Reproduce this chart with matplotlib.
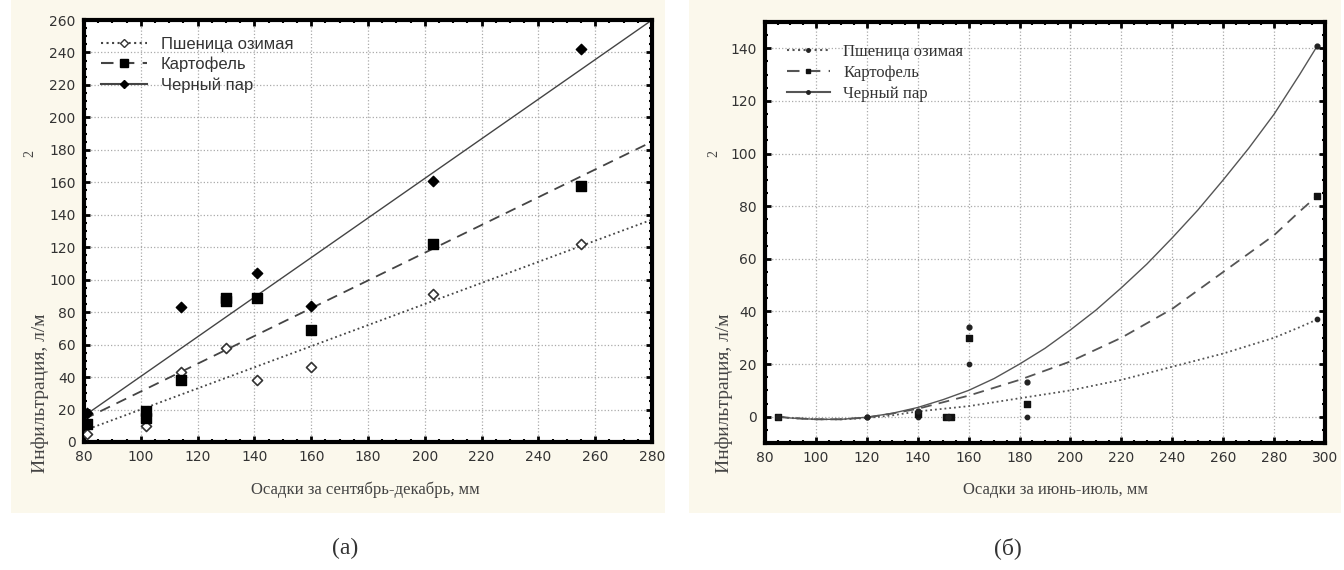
import matplotlib.pyplot as plt
from matplotlib.ticker import MultipleLocator
from matplotlib.patches import Rectangle

# ---- panel (a): осадки сентябрь-декабрь ----
wheat_x_a = [81, 102, 114, 130, 141, 160, 203, 255]
wheat_y_a = [5, 10, 43, 58, 38, 46, 91, 122]
potato_x_a = [81, 102, 102, 114, 130, 130, 141, 160, 203, 255]
potato_y_a = [11, 15, 19, 38, 87, 89, 89, 69, 122, 158]
fallow_x_a = [81, 114, 141, 160, 203, 255]
fallow_y_a = [18, 83, 104, 84, 161, 242]
fit_x_a = [80, 280]
wheat_fit_a = [7, 137]
potato_fit_a = [14, 185]
fallow_fit_a = [16, 260]

# ---- panel (б): осадки июнь-июль ----
wheat_x_b = [85, 120, 140, 151, 160, 183, 297]
wheat_y_b = [0, 0, 0, 0, 20, 0, 37]
potato_x_b = [85, 140, 151, 153, 160, 183, 297]
potato_y_b = [0, 1, 0, 0, 30, 5, 84]
fallow_x_b = [85, 120, 140, 152, 160, 183, 297]
fallow_y_b = [0, 0, 2, 0, 34, 13, 141]
curve_x_b = [85, 90, 100, 110, 120, 130, 140, 150, 160, 170, 180, 190, 200,
             210, 220, 230, 240, 250, 260, 270, 280, 290, 297]
wheat_curve_b = [0, -0.5, -1, -1, -0.5, 0.5, 2, 3, 4, 5.5, 7, 8.5, 10,
                 12, 14, 16.5, 19, 21.5, 24, 27, 30, 34, 37]
potato_curve_b = [0, -0.5, -1, -1, -0.3, 1.2, 3, 5.5, 8, 11, 14, 17.5, 21,
                  25.5, 30, 35.5, 41, 48, 55, 62, 69, 78, 84]
fallow_curve_b = [0, -0.5, -1, -1, -0.2, 1.3, 3.5, 6.5, 10, 14.5, 20, 26, 33,
                  40.5, 49, 58, 68, 78.5, 90, 102, 115, 130, 141]

labels = ['Пшеница озимая', 'Картофель', 'Черный пар']

fig = plt.figure(figsize=(13.44, 5.70), dpi=100)
# cream background behind each panel
for x0, w in [(0.008, 0.487), (0.513, 0.485)]:
    fig.patches.append(Rectangle((x0, 0.10), w, 0.90, transform=fig.transFigure,
                                 facecolor='#fbf8ec', edgecolor='none', zorder=-10))

ax1 = fig.add_axes([0.0625, 0.2246, 0.4226, 0.7403])
ax2 = fig.add_axes([0.5692, 0.2228, 0.4167, 0.7386])


def style(ax, xlim, ylim):
    ax.set_xlim(*xlim)
    ax.set_ylim(*ylim)
    ax.xaxis.set_major_locator(MultipleLocator(20))
    ax.yaxis.set_major_locator(MultipleLocator(20))
    ax.xaxis.set_minor_locator(MultipleLocator(5))
    ax.yaxis.set_minor_locator(MultipleLocator(5))
    ax.tick_params(which='both', direction='in', top=True, right=True,
                   colors='black', labelcolor='#333333')
    ax.tick_params(which='major', length=4, width=2, labelsize=10, pad=6)
    ax.tick_params(which='minor', length=2.5, width=1.5)
    ax.grid(True, which='major', linestyle=':', color='#aaaaaa', linewidth=0.9)
    for s in ax.spines.values():
        s.set_linewidth(3)
    ax.set_facecolor('white')


# panel (a)
ax1.plot(fit_x_a, wheat_fit_a, linestyle=':', color='#444444', linewidth=1.3)
ax1.plot(fit_x_a, potato_fit_a, linestyle=(0, (6, 4)), color='#444444', linewidth=1.3)
ax1.plot(fit_x_a, fallow_fit_a, linestyle='-', color='#444444', linewidth=1.0)
ax1.scatter(wheat_x_a, wheat_y_a, marker='D', s=26, facecolors='white',
            edgecolors='#333333', linewidths=1.2, zorder=3)
ax1.scatter(potato_x_a, potato_y_a, marker='s', s=50, color='black', zorder=3)
ax1.scatter(fallow_x_a, fallow_y_a, marker='D', s=28, color='black', zorder=3)
h1 = [plt.Line2D([], [], linestyle=':', color='#444444', marker='D', markersize=4,
                 markerfacecolor='white', markeredgecolor='#333333'),
      plt.Line2D([], [], linestyle=(0, (6, 4)), color='#444444', marker='s', markersize=6,
                 markerfacecolor='black', markeredgecolor='black'),
      plt.Line2D([], [], linestyle='-', color='#444444', marker='D', markersize=4,
                 markerfacecolor='black', markeredgecolor='black')]
ax1.legend(h1, labels, loc='upper left', frameon=False, handlelength=2.8,
           prop={'family': 'Liberation Sans', 'size': 12}, borderaxespad=0.6,
           labelspacing=0.3, labelcolor='#333333', bbox_to_anchor=(0.0, 1.0))
style(ax1, (80, 280), (0, 260))

# panel (б)
ax2.plot(curve_x_b, wheat_curve_b, linestyle=':', color='#555555', linewidth=1.3)
ax2.plot(curve_x_b, potato_curve_b, linestyle=(0, (6, 4)), color='#555555', linewidth=1.3)
ax2.plot(curve_x_b, fallow_curve_b, linestyle='-', color='#555555', linewidth=1.0)
ax2.scatter(wheat_x_b, wheat_y_b, marker='o', s=10, color='#222222', zorder=3)
ax2.scatter(potato_x_b, potato_y_b, marker='s', s=20, color='#111111', zorder=3)
ax2.scatter(fallow_x_b, fallow_y_b, marker='o', s=12, color='#222222', zorder=3)
h2 = [plt.Line2D([], [], linestyle=':', color='#555555', marker='o', markersize=2.5,
                 markerfacecolor='#222222', markeredgecolor='#222222'),
      plt.Line2D([], [], linestyle=(0, (6, 4)), color='#555555', marker='s', markersize=3,
                 markerfacecolor='#111111', markeredgecolor='#111111'),
      plt.Line2D([], [], linestyle='-', color='#555555', marker='o', markersize=2.5,
                 markerfacecolor='#222222', markeredgecolor='#222222')]
ax2.legend(h2, labels, loc='upper left', frameon=False, handlelength=2.6,
           prop={'family': 'Liberation Serif', 'size': 12}, borderaxespad=0.9,
           labelspacing=0.3, labelcolor='#333333', bbox_to_anchor=(0.0, 1.0))
style(ax2, (80, 300), (-10, 150))
ax2.set_yticks([0, 20, 40, 60, 80, 100, 120, 140])

# axis titles
fig.text(0.272, 0.14, 'Осадки за сентябрь-декабрь, мм', ha='center', va='center',
         family='Liberation Serif', fontsize=12, color='#444444')
fig.text(0.785, 0.14, 'Осадки за июнь-июль, мм', ha='center', va='center',
         family='Liberation Serif', fontsize=12, color='#444444')
for xl in (0.030, 0.539):
    fig.text(xl, 0.31, 'Инфильтрация, л/м', rotation=90, ha='center', va='center',
             family='Liberation Serif', fontsize=14, color='#444444')
    fig.text(xl - 0.008, 0.73, '2', rotation=90, ha='center', va='center',
             family='Liberation Serif', fontsize=10, color='#444444')

fig.text(0.257, 0.038, '(a)', ha='center', va='center',
         family='Liberation Serif', fontsize=17, color='#333333')
fig.text(0.750, 0.038, '(б)', ha='center', va='center',
         family='Liberation Serif', fontsize=17, color='#333333')

fig.savefig('out.png', dpi=100)
